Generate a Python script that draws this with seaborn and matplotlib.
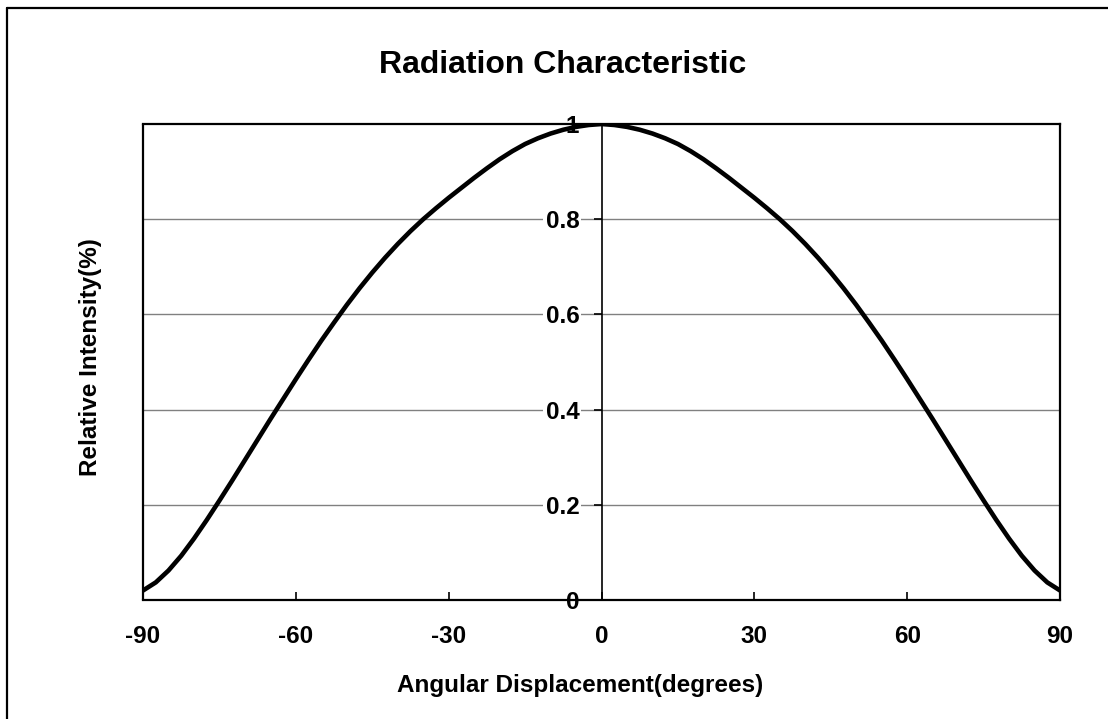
import matplotlib
matplotlib.use('Agg')
import matplotlib.pyplot as plt
import seaborn as sns
from matplotlib.lines import Line2D

# values (curve is symmetric about 0)
half_angles = [0, 2.5, 5, 7.5, 10, 12.5, 15, 17.5, 20, 22.5, 25, 27.5, 30, 32.5, 35, 37.5, 40, 42.5,
               45, 47.5, 50, 52.5, 55, 57.5, 60, 62.5, 65, 67.5, 70, 72.5, 75, 77.5, 80, 82.5, 85, 87.5, 90]
half_intensity = [1.000, 0.998, 0.994, 0.988, 0.980, 0.970, 0.958, 0.943, 0.926, 0.907, 0.887, 0.866,
                  0.845, 0.823, 0.800, 0.775, 0.748, 0.719, 0.688, 0.655, 0.620, 0.583, 0.545, 0.505,
                  0.464, 0.422, 0.380, 0.337, 0.294, 0.251, 0.209, 0.168, 0.129, 0.093, 0.062, 0.037, 0.020]
angles = [-a for a in half_angles[::-1]] + half_angles[1:]
intensity = half_intensity[::-1] + half_intensity[1:]

x_ticks = [-90, -60, -30, 0, 30, 60, 90]
y_ticks = [0, 0.2, 0.4, 0.6, 0.8, 1]
y_tick_labels = ['0', '0.2', '0.4', '0.6', '0.8', '1']

sns.set_style('white')
plt.rcParams['font.family'] = ['Liberation Sans', 'DejaVu Sans']
plt.rcParams['font.weight'] = 'bold'
plt.rcParams['text.color'] = 'black'
plt.rcParams['xtick.color'] = 'black'
plt.rcParams['ytick.color'] = 'black'
plt.rcParams['axes.labelcolor'] = 'black'

fig = plt.figure(figsize=(11.08, 7.19), dpi=100)
ax = fig.add_axes([0.1291, 0.1655, 0.8276, 0.662])

# horizontal gridlines (below the axis, which seaborn puts at zorder 0.5)
for v in y_ticks[1:-1]:
    ax.axhline(v, color='#808080', lw=1.0, zorder=0.3)

sns.lineplot(x=angles, y=intensity, ax=ax, color='black', lw=3.3, zorder=3)

ax.set_xlim(-90, 90)
ax.set_ylim(0, 1)

# y axis sits at x = 0, box frame around plot area
ax.spines['left'].set_position(('data', 0))
ax.spines['left'].set_linewidth(1.2)
for s in ['top', 'right', 'bottom']:
    ax.spines[s].set_linewidth(1.6)
    ax.spines[s].set_color('black')
ax.spines['left'].set_color('black')
ax.axvline(-90, color='black', lw=1.6, clip_on=False, zorder=4)

ax.set_xticks(x_ticks)
ax.set_xticklabels([str(t) for t in x_ticks])
ax.set_yticks(y_ticks)
ax.set_yticklabels(y_tick_labels)
ax.tick_params(axis='x', direction='in', length=6, width=1.2, pad=18, labelsize=17.5, bottom=True)
ax.tick_params(axis='y', direction='out', length=6, width=1.2, pad=10, labelsize=17.5, left=True)

ax.set_xlabel('Angular Displacement(degrees)', fontsize=17.5, fontweight='bold', va='center', color='black')
ax.set_ylabel('Relative Intensity(%)', fontsize=17.5, fontweight='bold', va='center', color='black')
ax.xaxis.set_label_coords(0.4766, -0.1786)
ax.yaxis.set_label_coords(-0.0578, 0.5105)

fig.text(0.508, 0.9096, 'Radiation Characteristic', fontsize=23, fontweight='bold',
         ha='center', va='center', color='black')

# outer chart border (only top and left edges fall inside the picture)
fig.add_artist(Line2D([0.0063, 0.0063], [0.0, 0.9889], transform=fig.transFigure, color='black', lw=1.6))
fig.add_artist(Line2D([0.0063, 1.0], [0.9889, 0.9889], transform=fig.transFigure, color='black', lw=1.6))

# white box behind y tick labels so the gridlines stop at the text
fig.canvas.draw()
for lab in ax.get_xticklabels() + ax.get_yticklabels():
    lab.set_fontweight('bold')
    lab.set_color('black')
for lab in ax.get_yticklabels()[1:-1]:
    lab.set_bbox(dict(facecolor='white', edgecolor='none', pad=1.5))

fig.savefig('out.png', dpi=100)
